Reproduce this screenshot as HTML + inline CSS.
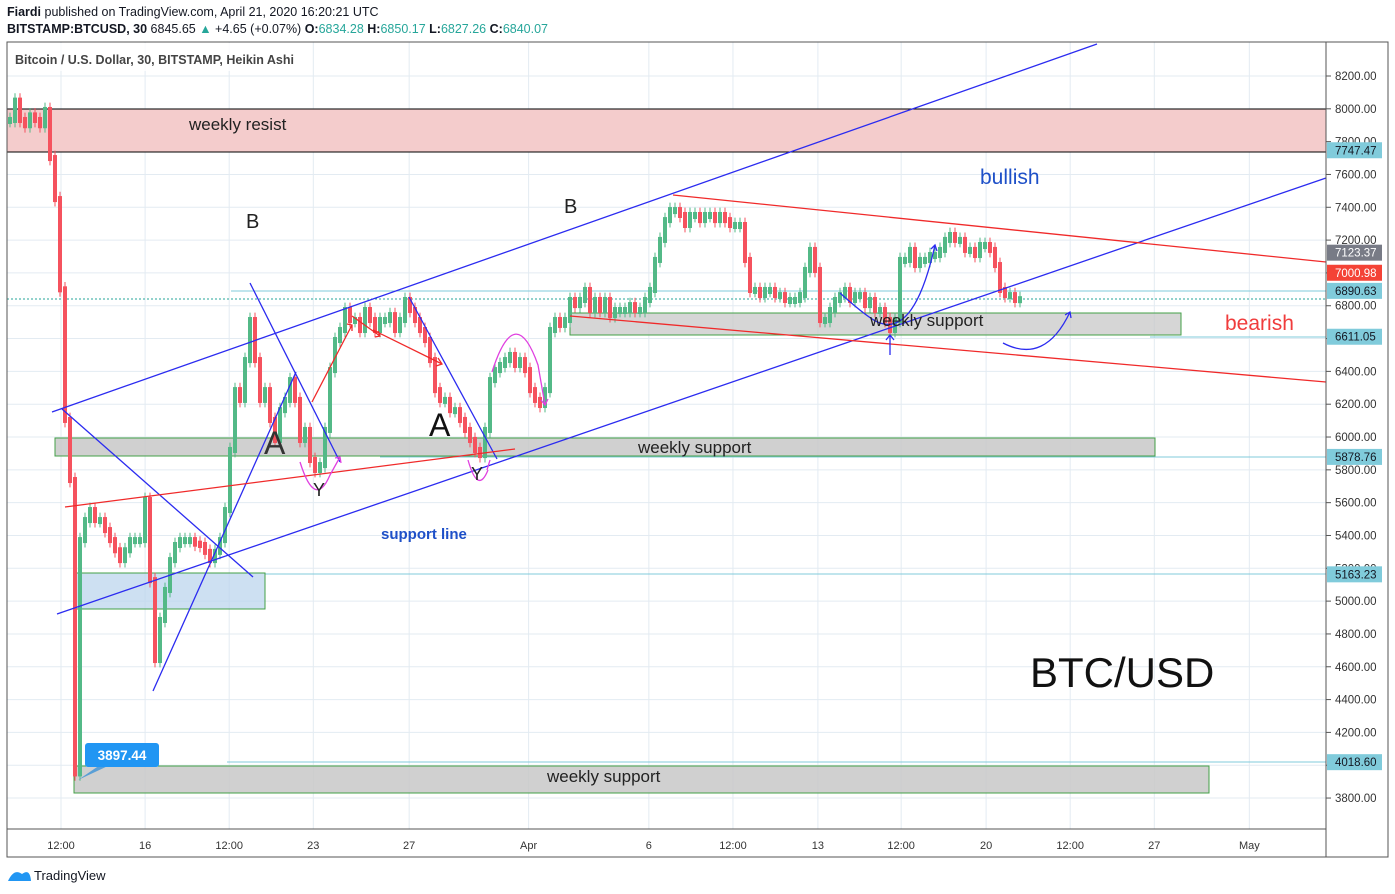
<!DOCTYPE html>
<html><head><meta charset="utf-8">
<style>
body{margin:0;background:#fff;font-family:"Liberation Sans",sans-serif;}
#wrap{position:relative;width:1395px;height:894px;overflow:hidden;background:#fff}
.hdr{position:absolute;left:7px;font-size:12.5px;color:#131722;white-space:nowrap}
</style></head><body>
<div id="wrap">
<div class="hdr" style="top:5px"><b>Fiardi</b> published on TradingView.com, April 21, 2020 16:20:21 UTC</div>
<div class="hdr" style="top:22px"><b>BITSTAMP:BTCUSD, 30</b> 6845.65 <span style="color:#26a69a">▲</span> +4.65 (+0.07%) <b>O:</b><span style="color:#26a69a">6834.28</span> <b>H:</b><span style="color:#26a69a">6850.17</span> <b>L:</b><span style="color:#26a69a">6827.26</span> <b>C:</b><span style="color:#26a69a">6840.07</span></div>
<svg id="chart" width="1395" height="894" style="position:absolute;left:0;top:0" font-family="Liberation Sans, sans-serif">
<g id="grid"></g>
<rect x="7" y="109" width="1319" height="43" fill="#f4cccc"/>
<line x1="7" y1="109" x2="1326" y2="109" stroke="#000"/>
<line x1="7" y1="152" x2="1326" y2="152" stroke="#000"/>
<text x="189" y="130" font-size="17" fill="#222">weekly resist</text>
<g id="hlines">
<line x1="231" y1="291" x2="1326" y2="291" stroke="#80cbdb"/>
<line x1="1150" y1="337" x2="1326" y2="337" stroke="#80cbdb"/>
<line x1="380" y1="457" x2="1326" y2="457" stroke="#80cbdb"/>
<line x1="265" y1="574" x2="1326" y2="574" stroke="#80cbdb"/>
<line x1="227" y1="762" x2="1326" y2="762" stroke="#80cbdb"/>
<line x1="7" y1="299" x2="1326" y2="299" stroke="#26a69a" stroke-dasharray="2,2"/>
</g>
<rect x="570" y="313" width="611" height="22" fill="#c8c8c8" fill-opacity="0.75" stroke="#43a047"/>
<rect x="55" y="438" width="1100" height="18" fill="#c8c8c8" fill-opacity="0.85" stroke="#43a047"/>
<rect x="74" y="573" width="191" height="36" fill="#bcd6ee" fill-opacity="0.75" stroke="#43a047"/>
<rect x="74" y="766" width="1135" height="27" fill="#c8c8c8" fill-opacity="0.85" stroke="#43a047"/>
<g id="candles"></g>
<g fill="none" stroke-width="1.3">
<line x1="52" y1="412" x2="1097" y2="44" stroke="#2b2bf0"/>
<line x1="57" y1="614" x2="1326" y2="178" stroke="#2b2bf0"/>
<line x1="62" y1="409" x2="253" y2="577" stroke="#2b2bf0"/>
<line x1="153" y1="691" x2="296" y2="372" stroke="#2b2bf0"/>
<line x1="250" y1="283" x2="340" y2="462" stroke="#2b2bf0"/>
<line x1="409" y1="297" x2="497" y2="459" stroke="#2b2bf0"/>
<line x1="65" y1="507" x2="515" y2="449" stroke="#f02a2a"/>
<line x1="673" y1="195" x2="1326" y2="262" stroke="#f02a2a"/>
<line x1="570" y1="316" x2="1326" y2="382" stroke="#f02a2a"/>
<path d="M312 402 L352 325 M347 324 L352 325 L352 331 M352 316 L380 336 M375 337 L380 336 L378 331 M373 330 L442 364 M436 366 L442 364 L438 358" stroke="#f02a2a"/>
<path d="M300 462 Q315 510 330 475 L340 457 M335 458 L340 457 L341 463" stroke="#e040e0"/>
<path d="M468 460 Q478 495 488 470 M487 470 L490 460" stroke="#e040e0"/>
<path d="M492 372 Q515 300 538 365 L545 405 M541 400 L545 405 L548 399" stroke="#e040e0"/>
<path d="M840 293 Q870 320 880 323 Q915 335 935 245 M931 249 L935 245 L937 251" stroke="#2b2bf0"/>
<path d="M1003 343 Q1045 365 1070 312 M1065 315 L1070 312 L1071 318" stroke="#2b2bf0"/>
<path d="M890 355 L890 335 M886 340 L890 335 L894 340" stroke="#2b2bf0"/>
</g>
<text x="870" y="326" font-size="17" fill="#222">weekly support</text>
<text x="638" y="453" font-size="17" fill="#222">weekly support</text>
<text x="547" y="782" font-size="17" fill="#222">weekly support</text>
<text x="246" y="228" font-size="20" fill="#222">B</text>
<text x="564" y="213" font-size="20" fill="#222">B</text>
<text x="264" y="454" font-size="32" fill="#333">A</text>
<text x="429" y="436" font-size="32" fill="#111">A</text>
<text x="313" y="496" font-size="18" fill="#222">Y</text>
<text x="471" y="480" font-size="18" fill="#222">Y</text>
<text x="980" y="184" font-size="21" fill="#1e50c8">bullish</text>
<text x="1225" y="330" font-size="21" fill="#f03c3c">bearish</text>
<text x="381" y="539" font-size="15" font-weight="bold" fill="#1e50c8">support line</text>
<text x="1030" y="687" font-size="42" fill="#111">BTC/USD</text>
<g>
<path d="M78 780 L100 765 L110 765 Z" fill="#5a9fd6"/>
<rect x="85" y="743" width="74" height="24" rx="3" fill="#2196f3"/>
<text x="122" y="760" font-size="13.5" font-weight="bold" fill="#fff" text-anchor="middle">3897.44</text>
</g>
<rect x="7" y="42" width="1381" height="815" fill="none" stroke="#555"/>
<line x1="1326" y1="42" x2="1326" y2="857" stroke="#555"/>
<line x1="7" y1="829" x2="1326" y2="829" stroke="#555"/>
<rect x="8" y="43" width="300" height="28" fill="#fff" fill-opacity="0.8"/>
<text x="15" y="64" font-size="12.5" font-weight="bold" fill="#444">Bitcoin / U.S. Dollar, 30, BITSTAMP, Heikin Ashi</text>
<g id="yaxis"></g>
<g id="xaxis"></g>
<g id="badges"></g>
<g>
<path d="M8 881 Q14 868 22 874 Q30 868 31 881 Z" fill="#2196f3"/>
<text x="34" y="880" font-size="13" fill="#131722">TradingView</text>
</g>
</svg>
</div>
<script>
const closes=[7932,8050,7932,7900,7960,7932,7900,7993,7700,7450,6900,6104,5738,3950,5372,5494,5555,5494,5494,5433,5372,5310,5250,5310,5372,5372,5372,5616,5128,4641,4885,5068,5250,5342,5372,5372,5372,5350,5342,5300,5250,5300,5372,5555,5921,6286,6226,6469,6713,6469,6226,6286,6104,5982,6164,6226,6347,6226,5982,6043,5860,5799,5829,6043,6408,6591,6652,6774,6713,6713,6652,6774,6713,6652,6713,6713,6743,6652,6713,6835,6774,6713,6652,6591,6469,6286,6226,6226,6164,6164,6104,6043,5982,5921,5890,6043,6347,6408,6439,6469,6500,6439,6469,6408,6286,6226,6195,6286,6652,6713,6683,6713,6835,6804,6835,6896,6774,6835,6774,6835,6743,6774,6774,6774,6804,6774,6774,6835,6896,7079,7201,7322,7383,7383,7353,7292,7353,7353,7322,7353,7353,7322,7353,7322,7292,7292,7292,7079,6896,6896,6865,6896,6896,6865,6865,6835,6835,6835,6865,7018,7140,7018,6713,6713,6774,6835,6865,6896,6835,6865,6865,6804,6835,6774,6774,6713,6652,6713,7079,7079,7140,7048,7079,7079,7109,7109,7140,7201,7231,7201,7201,7140,7140,7109,7170,7170,7140,7048,6896,6865,6865,6835,6840];
const priceTicks=[8200,8000,7800,7600,7400,7200,7000,6800,6600,6400,6200,6000,5800,5600,5400,5200,5000,4800,4600,4400,4200,4000,3800];
const timeLabels=["12:00","16","12:00","23","27","Apr","6","12:00","13","12:00","20","12:00","27","May"];
const timeSlots=[1.0,2.0,3.0,4.0,5.14,6.56,7.99,8.99,10.0,10.99,12.0,13.0,14.0,15.13];
const badgePrices=[7747.47,7123.37,7000.98,6890.63,6611.05,5878.76,5163.23,4018.60];
const badgeKinds=["c","g","r","c","c","c","c","c"];
const NS="http://www.w3.org/2000/svg";
function y(p){return 76+(8200-p)*32.82/200;}
function xi(i){return 10+i*5;}
function xt(s){return 61+(s-1)*84.1;}
function mk(t,a,parent){const e=document.createElementNS(NS,t);for(const k in a)e.setAttribute(k,a[k]);parent.appendChild(e);return e;}
const grid=document.getElementById('grid'),ya=document.getElementById('yaxis'),xa=document.getElementById('xaxis'),cg=document.getElementById('candles'),bg=document.getElementById('badges');
priceTicks.forEach(p=>{
 const l=mk('line',{x1:7,x2:1326,y1:y(p),y2:y(p),stroke:'#e3ebf2'},grid);
 
 
 mk('line',{x1:1326,x2:1331,y1:y(p),y2:y(p),stroke:'#555'},ya);
 const t=mk('text',{x:1335,y:y(p)+4,'font-size':11.5,fill:'#333'},ya);t.textContent=p.toFixed(2);
 
 
});
timeLabels.forEach((lab,k)=>{
 const X=xt(timeSlots[k]);
 const l=mk('line',{x1:X,x2:X,y1:42,y2:829,stroke:'#e3ebf2'},grid);
 
 
 const t=mk('text',{x:X,y:849,'font-size':11,fill:'#333','text-anchor':'middle'},xa);t.textContent=lab;
 
 
});
closes.forEach((c,i)=>{
 const o=i?closes[i-1]:c;const up=c>=o;const col=up?'#53b987':'#f5525e';
 const hi=Math.max(o,c)+45,lo=Math.min(o,c)-45;const X=xi(i);
 mk('line',{x1:X,x2:X,y1:y(hi),y2:y(lo),stroke:col},cg);
 const r=mk('rect',{x:X-2,y:y(Math.max(o,c))-3,width:4,height:Math.max(1,y(Math.min(o,c))-y(Math.max(o,c)))+6,fill:col},cg);
 
 
});
badgePrices.forEach((p,k)=>{
 const col={c:'#80cbdb',g:'#787b86',r:'#f44336'}[badgeKinds[k]];
 const tc=badgeKinds[k]==='c'?'#131722':'#fff';
 const r=mk('rect',{x:1327,y:y(p)-8,width:55,height:16,fill:col},bg);
 
 
 const t=mk('text',{x:1335,y:y(p)+4,'font-size':11.5,fill:tc},bg);t.textContent=p.toFixed(2);
});
</script>
</body></html>
